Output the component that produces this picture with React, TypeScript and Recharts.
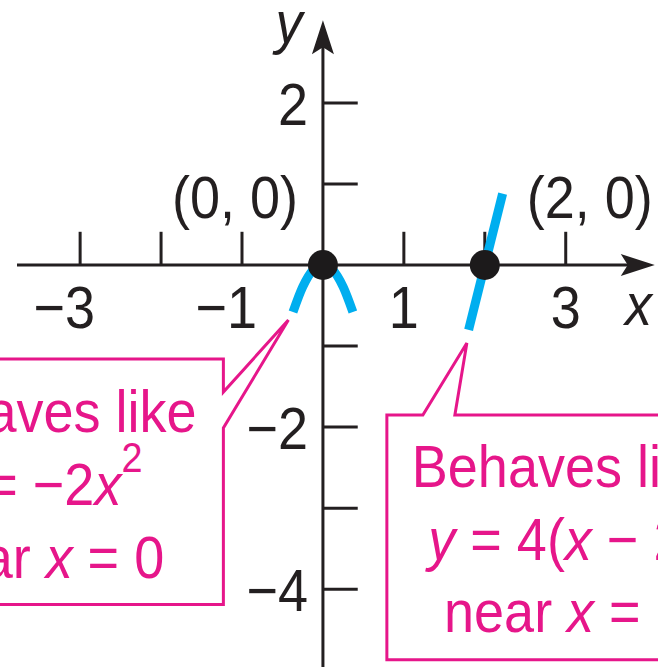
import { ComposedChart, Line, Scatter, XAxis, YAxis, ReferenceLine, ReferenceArea } from 'recharts';

const X_MIN = -3.99;
const X_MAX = 4.14;
const Y_MIN = -4.96;
const Y_MAX = 3.27;

const xTicks = [-3, -2, -1, 1, 2, 3];
const xLabeled = [-3, -1, 1, 3];
const yTicks = [2, 1, -1, -2, -3, -4];
const yLabeled = [2, -2, -4];

// curve near x = 0 (looks like -2x^2)
const nearZeroX = [-0.37, -0.25, -0.12, 0, 0.12, 0.25, 0.37];
const nearZeroY = [-0.58, -0.27, -0.06, 0, -0.06, -0.27, -0.58];
// piece near x = 2 (looks like 4(x - 2))
const nearTwoX = [1.8, 2.22];
const nearTwoY = [-0.8, 0.88];

const interceptX = [0, 2];
const interceptY = [0, 0];
const interceptLabels = ['(0, 0)', '(2, 0)'];

const INK = '#231f20';
const PINK = '#e6168a';
const CYAN = '#00aeef';
const FONT = "'Liberation Sans', Arial, sans-serif";
const SQUEEZE = 0.9; // condensed look

const fmt = (v: number) => (v < 0 ? `\u2212${-v}` : `${v}`);

const parabola = nearZeroX.map((x, i) => ({ x, y: nearZeroY[i] }));
const slope = nearTwoX.map((x, i) => ({ x, y: nearTwoY[i] }));
const intercepts = interceptX.map((x, i) => ({ x, y: interceptY[i], label: interceptLabels[i] }));

const NText = ({ x, y, anchor = 'middle', fill = INK, italic = false, children }: any) => (
  <g transform={`translate(${x},${y}) scale(${SQUEEZE},1)`}>
    <text
      x={0}
      y={0}
      textAnchor={anchor}
      fontFamily={FONT}
      fontSize={60}
      fontStyle={italic ? 'italic' : 'normal'}
      fill={fill}
    >
      {children}
    </text>
  </g>
);

const arrowLine = (p: any) => {
  const { x1, y1, x2, y2 } = p;
  const len = Math.hypot(x2 - x1, y2 - y1);
  const ux = (x2 - x1) / len;
  const uy = (y2 - y1) / len;
  const nx = -uy;
  const ny = ux;
  const L = 34;
  const W = 11;
  const N = 7;
  const bx = x2 - ux * L;
  const by = y2 - uy * L;
  const pts = [
    [x2, y2],
    [bx + nx * W, by + ny * W],
    [x2 - ux * (L - N), y2 - uy * (L - N)],
    [bx - nx * W, by - ny * W],
  ]
    .map((q) => q.join(','))
    .join(' ');
  return (
    <g>
      <line x1={x1} y1={y1} x2={x2 - ux * 20} y2={y2 - uy * 20} stroke={INK} strokeWidth={3} />
      <polygon points={pts} fill={INK} />
    </g>
  );
};

const xTickShape = (v: number) => (p: any) => {
  const show = xLabeled.includes(v);
  return (
    <g>
      <line x1={p.x1} y1={p.y1} x2={p.x2} y2={p.y2} stroke={INK} strokeWidth={3} />
      {show && (
        <NText x={v < 0 ? p.x1 + 15 : p.x1} y={p.y1 + 63} anchor={v < 0 ? 'end' : 'middle'}>
          {fmt(v)}
        </NText>
      )}
    </g>
  );
};

const yTickShape = (v: number) => (p: any) => {
  const show = yLabeled.includes(v);
  return (
    <g>
      <line x1={p.x1} y1={p.y1} x2={p.x2} y2={p.y2} stroke={INK} strokeWidth={3} />
      {show && (
        <NText x={p.x1 - 15} y={p.y1 + 22} anchor="end">
          {fmt(v)}
        </NText>
      )}
    </g>
  );
};

const dotShape = (p: any) => {
  const left = p.payload.x === 0;
  return (
    <g>
      <circle cx={p.cx} cy={p.cy} r={15} fill="#1c1a1b" />
      <NText x={left ? p.cx - 25 : p.cx + 42} y={p.cy - 47} anchor={left ? 'end' : 'start'}>
        {p.payload.label}
      </NText>
    </g>
  );
};

const leftCallout = (p: any) => {
  const { x, y, width, height } = p;
  const r = x + width;
  const b = y + height;
  const d = `M${x},${y} L${r},${y} L${r},${y + 33} L${r + 65},${y - 39} L${r},${y + 69} L${r},${b} L${x},${b} Z`;
  const cx = r - 180;
  return (
    <g>
      <path d={d} fill="#fff" stroke={PINK} strokeWidth={3} strokeLinejoin="miter" />
      <NText x={cx} y={y + 73} fill={PINK}>Behaves like</NText>
      <NText x={cx} y={y + 146} fill={PINK}>
        <tspan fontStyle="italic">y</tspan> = {'\u2212'}2<tspan fontStyle="italic">x</tspan>
        <tspan fontSize={42} dy={-33}>2</tspan>
      </NText>
      <NText x={cx} y={y + 219} fill={PINK}>
        near <tspan fontStyle="italic">x</tspan> = 0
      </NText>
    </g>
  );
};

const rightCallout = (p: any) => {
  const { x, y, width, height } = p;
  const r = x + width;
  const b = y + height;
  const d = `M${x},${y} L${x + 36},${y} L${x + 80},${y - 72} L${x + 68},${y} L${r},${y} L${r},${b} L${x},${b} Z`;
  const cx = x + 178;
  return (
    <g>
      <path d={d} fill="#fff" stroke={PINK} strokeWidth={3} strokeLinejoin="miter" />
      <NText x={cx} y={y + 72} fill={PINK}>Behaves like</NText>
      <NText x={cx} y={y + 145} fill={PINK}>
        <tspan fontStyle="italic">y</tspan> = 4(<tspan fontStyle="italic">x</tspan> {'\u2212'} 2)
      </NText>
      <NText x={cx} y={y + 217} fill={PINK}>
        near <tspan fontStyle="italic">x</tspan> = 2
      </NText>
    </g>
  );
};

const axisLabel = (txt: string) => (p: any) => (
  <NText x={p.x1} y={p.y1} italic>
    {txt}
  </NText>
);

export default function App() {
  return (
    <div style={{ position: 'absolute', left: 0, top: 0, background: '#fff' }}>
      <ComposedChart width={658} height={667} margin={{ top: 0, right: 0, bottom: 0, left: 0 }}>
        <XAxis type="number" dataKey="x" domain={[X_MIN, X_MAX]} allowDataOverflow hide />
        <YAxis type="number" dataKey="y" domain={[Y_MIN, Y_MAX]} allowDataOverflow hide />

        <ReferenceLine
          segment={[{ x: -3.78, y: 0 }, { x: 4.1, y: 0 }]}
          ifOverflow="visible"
          shape={arrowLine}
        />
        <ReferenceLine
          segment={[{ x: 0, y: Y_MIN }, { x: 0, y: 3.02 }]}
          ifOverflow="visible"
          shape={arrowLine}
        />
        {xTicks.map((t) => (
          <ReferenceLine
            key={`xt${t}`}
            segment={[{ x: t, y: 0 }, { x: t, y: 0.41 }]}
            ifOverflow="visible"
            shape={xTickShape(t)}
          />
        ))}
        {yTicks.map((t) => (
          <ReferenceLine
            key={`yt${t}`}
            segment={[{ x: 0, y: t }, { x: 0.43, y: t }]}
            ifOverflow="visible"
            shape={yTickShape(t)}
          />
        ))}
        <ReferenceLine segment={[{ x: 3.9, y: -0.74 }, { x: 3.9, y: -0.74 }]} ifOverflow="visible" shape={axisLabel('x')} />
        <ReferenceLine segment={[{ x: -0.42, y: 2.74 }, { x: -0.42, y: 2.74 }]} ifOverflow="visible" shape={axisLabel('y')} />

        <Line
          data={parabola}
          dataKey="y"
          type="monotone"
          stroke={CYAN}
          strokeWidth={9}
          dot={false}
          activeDot={false}
          isAnimationActive={false}
        />
        <Line
          data={slope}
          dataKey="y"
          type="linear"
          stroke={CYAN}
          strokeWidth={9}
          dot={false}
          activeDot={false}
          isAnimationActive={false}
        />
        <Scatter data={intercepts} dataKey="y" shape={dotShape} isAnimationActive={false} />

        <ReferenceArea x1={-4.6} x2={-1.23} y1={-1.16} y2={-4.19} ifOverflow="visible" shape={leftCallout} />
        <ReferenceArea x1={0.79} x2={4.6} y1={-1.85} y2={-4.87} ifOverflow="visible" shape={rightCallout} />
      </ComposedChart>
    </div>
  );
}
